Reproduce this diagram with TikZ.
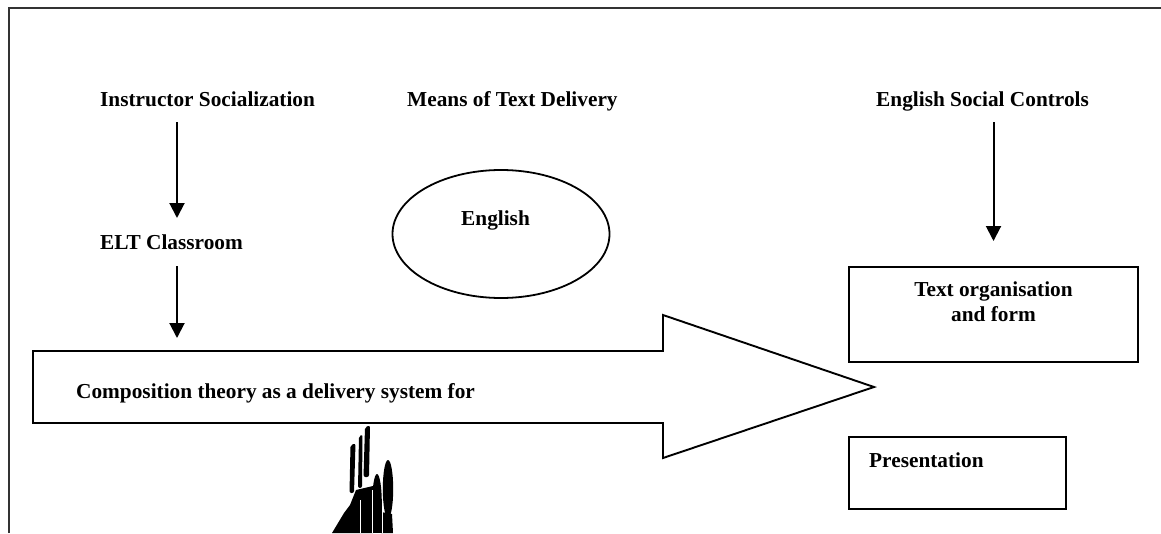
\documentclass[tikz,border=0pt]{standalone}
\usepackage{fontspec}
\setmainfont{Liberation Serif}
\usetikzlibrary{positioning,shapes.geometric,arrows.meta}

\tikzset{
  lbl/.style = {font=\fontsize{21.3}{25}\selectfont\bfseries, inner sep=0pt},
  arr/.style = {line width=2pt, -{Triangle[width=15pt,length=15pt]}},
  box/.style = {draw, line width=2pt, inner sep=0pt},
}

\begin{document}
\begin{tikzpicture}[x=1pt, y=-1pt]
    \useasboundingbox (0,0) rectangle (1161,533);
    \draw[line width=2.2pt, black!80] (9,533) -- (9,8) -- (1161,8);

    \node[lbl, anchor=base west] (t1) at (100,106) {Instructor Socialization};
    \node[lbl, anchor=base west] (t2) at (407,106) {Means of Text Delivery};
    \node[lbl, anchor=base west] (t3) at (876,106) {English Social Controls};
    \node[lbl, below=143pt of t1.base west, anchor=base west] (e1) {ELT Classroom};

    \node[draw, ellipse, line width=1.8pt, minimum width=217pt, minimum height=128pt] (o1) at (501,234) {};
    \node[lbl, above left=9pt and 40pt of o1.center, anchor=base west] (o2) {English};

    \node[box, minimum width=289pt, minimum height=95pt] (b1) at (993.5,314.5) {};
    \node[lbl, align=center, below=55pt of b1.north, anchor=base] (b1t) {Text organisation\\and form};
    \node[box, minimum width=217pt, minimum height=72pt, below=73pt of b1.south west, anchor=north west] (b2) {};
    \node[lbl, below right=31pt and 21pt of b2.north west, anchor=base west] (b2t) {Presentation};

    \draw[line width=1.9pt] (33,351) coordinate (s1) -- (663,351) -- (663,315) -- (874,387)
      -- (663,458) -- (663,423) -- (33,423) -- cycle;
    \node[lbl, anchor=base west] (c1) at (76,398) {Composition theory as a delivery system for};

    \coordinate (h1) at (177,338);
    \draw[arr, shorten <=16pt, shorten >=31pt] (t1.base -| h1) -- (e1.base -| h1);
    \draw[arr, shorten <=17pt] (e1.base -| h1) -- (h1);
    \draw[arr, shorten <=16pt, shorten >=25pt] (t3.base -| b1.north) -- (b1.north);

    \fill[rounded corners=2pt] (349.5,493) -- (350.5,445) -- (355.5,443.5) -- (354,493) -- cycle;
    \fill[rounded corners=2pt] (358,488) -- (359,436) -- (362.5,434.5) -- (362,488) -- cycle;
    \fill[rounded corners=2pt] (363.5,477) -- (365,427) -- (370,425.5) -- (369,477) -- cycle;
    \fill (377,503) ellipse [x radius=4.8, y radius=29];
    \fill (388,489) ellipse [x radius=5.2, y radius=29];
    \fill (332,533) -- (344,513) -- (350,505) -- (356,490) -- (373,486) -- (373,533) -- cycle;
    \fill (372,505) rectangle (382,533);
    \fill (381,512) -- (392,514) -- (393,533) -- (381,533) -- cycle;
    \draw[white, line width=0.7pt] (360.5,500) -- (360.5,533) (372,490) -- (372,533) (382.3,505) -- (382.3,533);
\end{tikzpicture}
\end{document}
